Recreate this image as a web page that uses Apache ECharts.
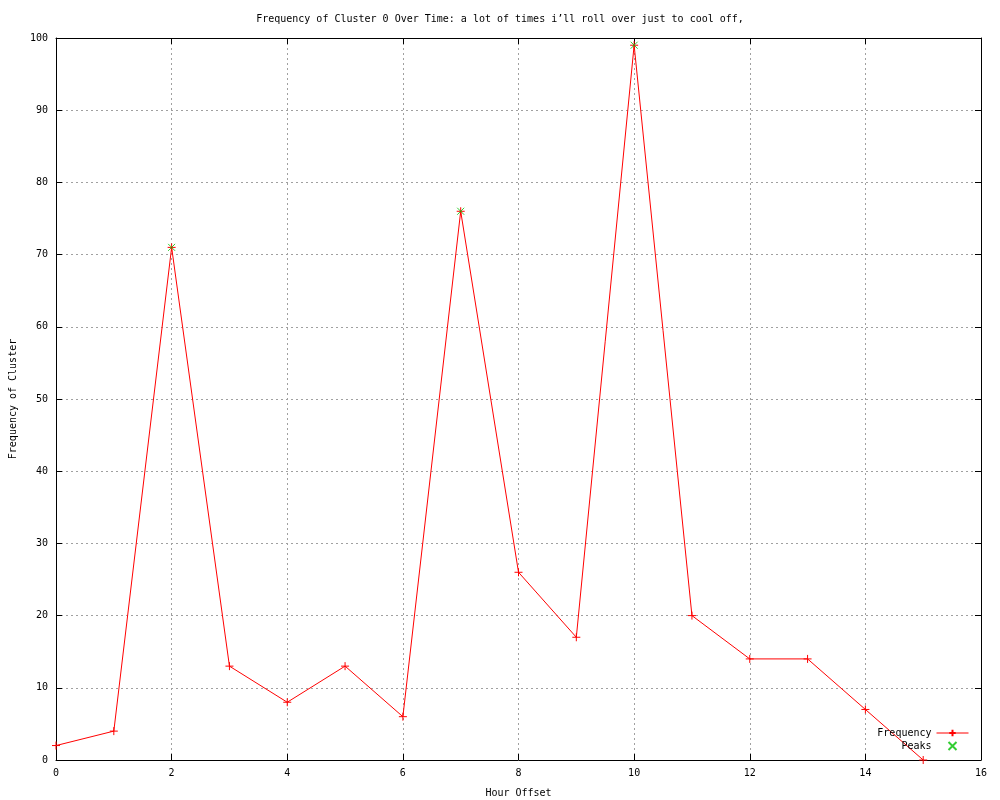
<!DOCTYPE html>
<html><head><meta charset="utf-8">
<script src="https://cdn.jsdelivr.net/npm/echarts@6/dist/echarts.min.js"></script>
<style>html,body{margin:0;padding:0;background:#fff}#c{width:1000px;height:800px}</style>
</head><body><div id="c"></div>
<script>
const hours = [0,1,2,3,4,5,6,7,8,9,10,11,12,13,14,15];
const frequency = [2,4,71,13,8,13,6,76,26,17,99,20,14,14,7,0];
const peakHours = [2,7,10];
const peakValues = [71,76,99];
const xTicks = [0,2,4,6,8,10,12,14,16];
const yTicks = [0,10,20,30,40,50,60,70,80,90,100];

const FONT = 'DejaVu Sans Mono';
const plus = 'path://M0,-1L0,1M-1,0L1,0';
const cross = 'path://M-1,-1L1,1M-1,1L1,-1';
const chart = echarts.init(document.getElementById('c'));
const axisBase = {
  axisLine:{show:true,onZero:false,lineStyle:{color:'#000',width:1}},
  axisTick:{show:true,inside:true,length:6,lineStyle:{color:'#000'}},
  splitLine:{show:false}
};
chart.setOption({
  animation:false,
  backgroundColor:'#fff',
  title:{text:'Frequency of Cluster 0 Over Time: a lot of times i\u2019ll roll over just to cool off,',left:'center',top:9,
    textStyle:{fontFamily:FONT,fontSize:10,fontWeight:'normal',color:'#000'}},
  grid:{left:56,right:19,top:38,bottom:40,containLabel:false,outerBoundsMode:'none'},
  legend:{orient:'vertical',right:26,top:723,align:'right',itemWidth:32,itemHeight:8,itemGap:3,
    lineStyle:{width:1},
    textStyle:{fontFamily:FONT,fontSize:10,color:'#000'},
    data:['Frequency','Peaks']},
  xAxis:[
    Object.assign({},axisBase,{type:'value',min:0,max:16,interval:2,
      name:'Hour Offset',nameLocation:'middle',nameGap:28,
      nameTextStyle:{fontFamily:FONT,fontSize:10,color:'#000'},
      axisLabel:{fontFamily:FONT,fontSize:10,color:'#000',margin:8,formatter:v=>xTicks.includes(v)?String(v):''},
      splitLine:{show:true,lineStyle:{color:'#a0a0a0',type:[2,3],width:1}}}),
    Object.assign({},axisBase,{type:'value',min:0,max:16,interval:2,position:'top',axisLabel:{show:false}})
  ],
  yAxis:[
    Object.assign({},axisBase,{type:'value',min:0,max:100,interval:10,
      name:'Frequency of Cluster',nameLocation:'middle',nameGap:38,
      nameTextStyle:{fontFamily:FONT,fontSize:10,color:'#000'},
      axisLabel:{fontFamily:FONT,fontSize:10,color:'#000',margin:8,formatter:v=>yTicks.includes(v)?String(v):''},
      splitLine:{show:true,lineStyle:{color:'#a0a0a0',type:[2,3],width:1}}}),
    Object.assign({},axisBase,{type:'value',min:0,max:100,interval:10,position:'right',axisLabel:{show:false}})
  ],
  series:[
    {name:'Frequency',type:'line',data:hours.map((h,i)=>[h,frequency[i]]),
      lineStyle:{color:'#ff0000',width:1},symbol:plus,symbolSize:8,showAllSymbol:true,
      itemStyle:{color:'#ff0000',borderColor:'#ff0000',borderWidth:1},z:3},
    {name:'Peaks',type:'scatter',data:peakHours.map((h,i)=>[h,peakValues[i]]),
      symbol:cross,symbolSize:7,
      itemStyle:{color:'#00c000',borderColor:'#00c000',borderWidth:1},z:4}
  ]
});
</script></body></html>
